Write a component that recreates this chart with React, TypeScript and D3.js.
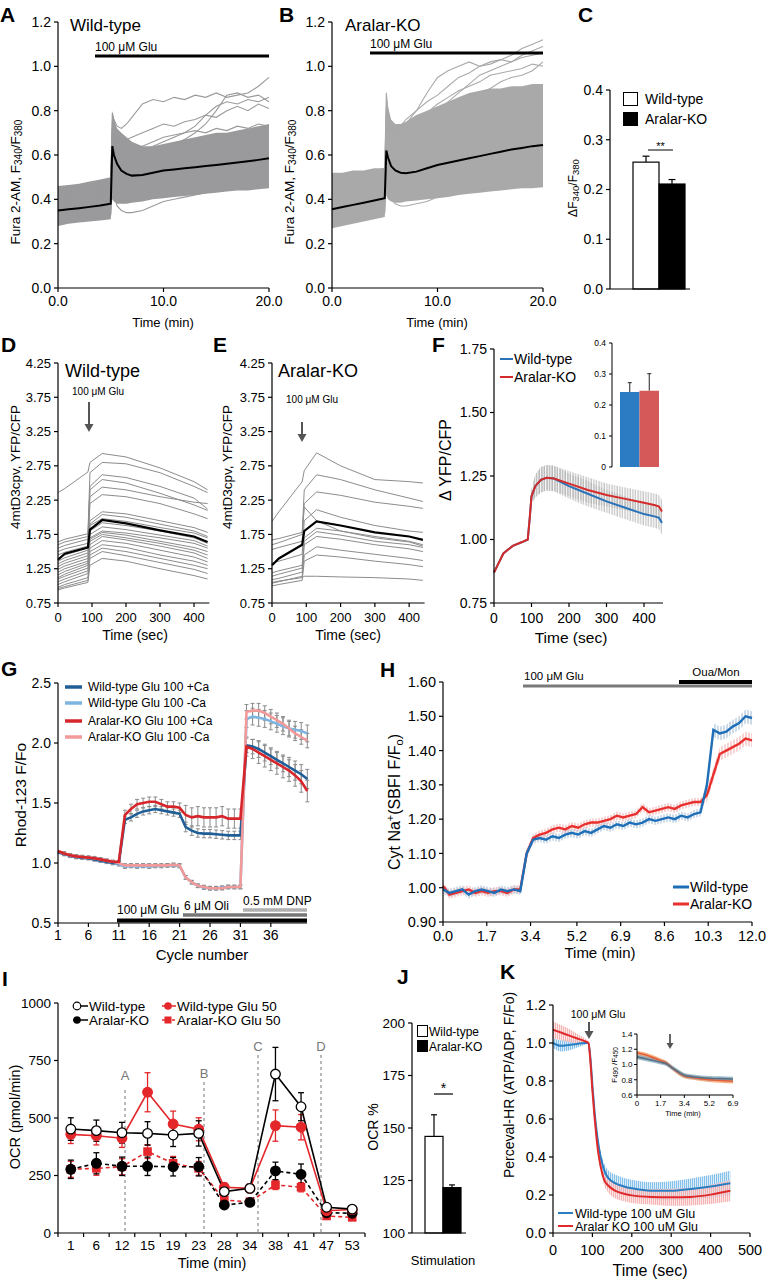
import React from "react";
import * as d3 from "d3";

const FONT = "'Liberation Sans', Arial, Helvetica, sans-serif";

// ---------------- Panel A / B (Fura-2) ----------------
const AB_time = [0, 1, 2, 3, 4, 5, 5.15, 5.3, 5.6, 6, 6.5, 7, 8, 9, 10, 11, 12, 13, 14, 15, 16, 17, 18, 19, 20];
const A_mean = [0.35, 0.355, 0.36, 0.366, 0.372, 0.38, 0.64, 0.6, 0.56, 0.53, 0.515, 0.507, 0.51, 0.52, 0.53, 0.535, 0.54, 0.545, 0.55, 0.555, 0.56, 0.566, 0.572, 0.578, 0.585];
const A_lo = [0.28, 0.29, 0.295, 0.3, 0.305, 0.31, 0.4, 0.39, 0.38, 0.38, 0.38, 0.385, 0.39, 0.4, 0.405, 0.41, 0.415, 0.42, 0.425, 0.43, 0.435, 0.44, 0.44, 0.445, 0.45];
const A_hi = [0.46, 0.465, 0.47, 0.48, 0.49, 0.5, 0.8, 0.76, 0.72, 0.7, 0.68, 0.66, 0.64, 0.64, 0.65, 0.66, 0.67, 0.68, 0.69, 0.7, 0.7, 0.71, 0.72, 0.73, 0.74];
const A_o1 = [0.45, 0.46, 0.45, 0.47, 0.48, 0.49, 0.79, 0.76, 0.73, 0.72, 0.74, 0.77, 0.83, 0.85, 0.84, 0.86, 0.85, 0.87, 0.86, 0.88, 0.86, 0.87, 0.88, 0.91, 0.95];
const A_o2 = [0.42, 0.43, 0.44, 0.44, 0.46, 0.47, 0.7, 0.66, 0.62, 0.6, 0.59, 0.6, 0.62, 0.64, 0.66, 0.68, 0.7, 0.73, 0.78, 0.82, 0.84, 0.83, 0.85, 0.84, 0.86];
const A_o3 = [0.4, 0.41, 0.42, 0.43, 0.44, 0.46, 0.75, 0.72, 0.7, 0.68, 0.67, 0.68, 0.7, 0.72, 0.74, 0.73, 0.75, 0.76, 0.78, 0.77, 0.8, 0.82, 0.8, 0.83, 0.81];
const A_o4 = [0.38, 0.39, 0.4, 0.41, 0.42, 0.44, 0.68, 0.65, 0.62, 0.61, 0.62, 0.63, 0.64, 0.66, 0.68, 0.69, 0.7, 0.71, 0.7, 0.72, 0.71, 0.73, 0.72, 0.74, 0.73];
const A_o5 = [0.3, 0.31, 0.31, 0.32, 0.32, 0.33, 0.5, 0.42, 0.37, 0.35, 0.34, 0.34, 0.35, 0.37, 0.39, 0.4, 0.41, 0.42, 0.43, 0.44, 0.44, 0.45, 0.45, 0.46, 0.46];
const A_o6 = [0.36, 0.37, 0.38, 0.39, 0.4, 0.41, 0.62, 0.56, 0.5, 0.47, 0.45, 0.44, 0.44, 0.46, 0.55, 0.64, 0.67, 0.66, 0.68, 0.67, 0.69, 0.68, 0.7, 0.69, 0.71];
const A_o7 = [0.44, 0.45, 0.46, 0.47, 0.48, 0.49, 0.72, 0.68, 0.64, 0.62, 0.61, 0.61, 0.62, 0.63, 0.64, 0.65, 0.67, 0.7, 0.74, 0.8, 0.87, 0.88, 0.86, 0.87, 0.84];

const B_mean = [0.355, 0.365, 0.375, 0.385, 0.395, 0.405, 0.62, 0.59, 0.55, 0.53, 0.52, 0.518, 0.525, 0.54, 0.555, 0.565, 0.575, 0.585, 0.595, 0.605, 0.615, 0.625, 0.632, 0.64, 0.645];
const B_lo = [0.27, 0.28, 0.29, 0.3, 0.31, 0.32, 0.42, 0.4, 0.39, 0.385, 0.385, 0.39, 0.395, 0.4, 0.405, 0.41, 0.42, 0.425, 0.43, 0.435, 0.44, 0.445, 0.45, 0.45, 0.455];
const B_hi = [0.52, 0.52, 0.53, 0.53, 0.54, 0.54, 0.89, 0.82, 0.76, 0.74, 0.74, 0.75, 0.78, 0.8, 0.82, 0.84, 0.86, 0.88, 0.89, 0.9, 0.9, 0.91, 0.91, 0.92, 0.92];
const B_o1 = [0.5, 0.51, 0.52, 0.52, 0.53, 0.54, 0.88, 0.8, 0.74, 0.72, 0.72, 0.74, 0.8, 0.88, 0.95, 0.98, 1.0, 1.02, 1.0, 1.02, 1.03, 1.02, 1.04, 1.05, 1.06];
const B_o2 = [0.48, 0.49, 0.5, 0.51, 0.52, 0.53, 0.82, 0.76, 0.72, 0.71, 0.73, 0.76, 0.8, 0.84, 0.87, 0.91, 0.95, 0.97, 1.0, 1.01, 1.03, 1.05, 1.08, 1.1, 1.12];
const B_o3 = [0.46, 0.47, 0.48, 0.49, 0.5, 0.51, 0.78, 0.74, 0.7, 0.7, 0.71, 0.73, 0.76, 0.79, 0.83, 0.86, 0.89, 0.91, 0.93, 0.96, 0.97, 0.98, 0.99, 1.01, 1.0];
const B_o4 = [0.44, 0.45, 0.46, 0.47, 0.48, 0.5, 0.75, 0.7, 0.67, 0.68, 0.7, 0.72, 0.75, 0.78, 0.8, 0.82, 0.85, 0.87, 0.88, 0.9, 0.93, 0.95, 0.96, 0.98, 1.02];
const B_o5 = [0.3, 0.31, 0.31, 0.32, 0.33, 0.34, 0.55, 0.45, 0.4, 0.38, 0.37, 0.37, 0.38, 0.39, 0.41, 0.42, 0.43, 0.44, 0.44, 0.45, 0.45, 0.46, 0.46, 0.47, 0.46];
const B_o6 = [0.42, 0.43, 0.44, 0.45, 0.46, 0.47, 0.72, 0.68, 0.64, 0.64, 0.66, 0.68, 0.72, 0.76, 0.8, 0.84, 0.88, 0.92, 0.96, 0.98, 1.0, 1.02, 1.05, 1.07, 1.09];

const AB_ticksY = [0, 0.2, 0.4, 0.6, 0.8, 1.0, 1.2];
const AB_ticksX = [0, 10, 20];

// ---------------- Panel C ----------------
const C_groups = ["Wild-type", "Aralar-KO"];
const C_vals = [0.255, 0.211];
const C_err = [0.012, 0.009];
const C_ticks = [0, 0.1, 0.2, 0.3, 0.4];

// ---------------- Panel D / E (4mtD3cpv) ----------------
const DE_time = [0, 20, 88, 94, 130, 200, 300, 400, 440];
const D_mean = [1.38, 1.47, 1.56, 1.82, 1.96, 1.91, 1.81, 1.72, 1.64];
const D_traces = [
  [2.36, 2.42, 2.66, 2.8, 2.93, 2.88, 2.72, 2.52, 2.4],
  [1.64, 1.68, 1.76, 2.65, 2.8, 2.78, 2.65, 2.45, 2.36],
  [1.6, 1.64, 1.72, 2.45, 2.62, 2.58, 2.45, 2.28, 2.12],
  [1.55, 1.59, 1.68, 2.4, 2.55, 2.5, 2.35, 2.18, 2.1],
  [1.5, 1.54, 1.62, 2.3, 2.44, 2.4, 2.3, 2.22, 2.2],
  [1.45, 1.49, 1.58, 2.2, 2.33, 2.3, 2.2, 2.05, 1.98],
  [1.4, 1.45, 1.55, 1.95, 2.08, 2.05, 1.95, 1.85, 1.78],
  [1.36, 1.41, 1.52, 1.9, 2.04, 2.0, 1.9, 1.8, 1.72],
  [1.32, 1.37, 1.48, 1.88, 1.98, 1.94, 1.85, 1.77, 1.7],
  [1.28, 1.33, 1.44, 1.8, 1.92, 1.88, 1.8, 1.7, 1.62],
  [1.24, 1.29, 1.4, 1.75, 1.86, 1.82, 1.74, 1.66, 1.58],
  [1.2, 1.25, 1.36, 1.7, 1.8, 1.77, 1.7, 1.62, 1.55],
  [1.16, 1.21, 1.33, 1.68, 1.78, 1.74, 1.65, 1.56, 1.5],
  [1.12, 1.17, 1.3, 1.65, 1.75, 1.7, 1.62, 1.52, 1.45],
  [1.1, 1.14, 1.26, 1.6, 1.72, 1.67, 1.58, 1.48, 1.4],
  [1.06, 1.1, 1.22, 1.55, 1.66, 1.62, 1.52, 1.42, 1.35],
  [1.02, 1.06, 1.18, 1.5, 1.6, 1.56, 1.45, 1.36, 1.3],
  [0.98, 1.02, 1.12, 1.45, 1.55, 1.5, 1.4, 1.3, 1.25],
  [0.96, 0.99, 1.08, 1.4, 1.5, 1.44, 1.34, 1.24, 1.18],
  [0.94, 0.97, 1.05, 1.3, 1.4, 1.36, 1.25, 1.15, 1.1],
];
const E_mean = [1.3, 1.4, 1.6, 1.8, 1.94, 1.88, 1.78, 1.72, 1.67];
const E_traces = [
  [1.94, 2.08, 2.52, 2.68, 2.94, 2.75, 2.55, 2.52, 2.5],
  [1.6, 1.63, 1.75, 2.4, 2.62, 2.55, 2.4, 2.28, 2.23],
  [1.53, 1.56, 1.65, 2.2, 2.37, 2.32, 2.22, 2.16, 2.13],
  [1.67, 1.69, 1.78, 2.15, 1.95, 1.8, 1.7, 1.64, 1.58],
  [1.33, 1.36, 1.46, 1.95, 2.11, 2.0, 1.88, 1.8, 1.78],
  [1.19, 1.22, 1.3, 1.7, 1.84, 1.8, 1.72, 1.65, 1.6],
  [1.14, 1.17, 1.26, 1.65, 1.79, 1.74, 1.65, 1.6, 1.56],
  [1.09, 1.11, 1.2, 1.6, 1.72, 1.68, 1.6, 1.54, 1.5],
  [1.04, 1.06, 1.14, 1.45, 1.57, 1.52, 1.46, 1.4, 1.37],
  [1.0, 1.02, 1.08, 1.36, 1.45, 1.42, 1.36, 1.31, 1.28],
  [1.05, 1.07, 1.12, 1.14, 1.14, 1.13, 1.12, 1.1, 1.08],
];
const DE_ticksY = [0.75, 1.25, 1.75, 2.25, 2.75, 3.25, 3.75, 4.25];
const DEF_ticksX = [0, 100, 200, 300, 400];

// ---------------- Panel F ----------------
const F_time = [0, 10, 25, 50, 75, 90, 95, 100, 110, 125, 140, 160, 200, 250, 300, 350, 400, 430, 440, 448];
const F_wt = [0.87, 0.9, 0.945, 0.975, 0.99, 1.0, 1.08, 1.17, 1.21, 1.235, 1.243, 1.24, 1.21, 1.18, 1.15, 1.125, 1.1, 1.09, 1.085, 1.065];
const F_ko = [0.87, 0.9, 0.945, 0.975, 0.99, 1.0, 1.08, 1.17, 1.21, 1.235, 1.243, 1.24, 1.22, 1.195, 1.175, 1.16, 1.145, 1.135, 1.13, 1.11];
const F_err = [0, 0, 0, 0, 0, 0, 0.02, 0.03, 0.045, 0.05, 0.05, 0.05, 0.05, 0.05, 0.045, 0.045, 0.045, 0.045, 0.045, 0.045];
const F_ticksY = [0.75, 1.0, 1.25, 1.5, 1.75];
const F_barVals = [0.242, 0.246];
const F_barErr = [0.03, 0.055];
const F_barTicks = [0, 0.1, 0.2, 0.3, 0.4];

// ---------------- Panel G ----------------
const G_cycles = d3.range(1, 43);
const G_wtCa = [1.09, 1.075, 1.06, 1.05, 1.045, 1.04, 1.03, 1.02, 1.01, 1.0, 1.0, 1.36, 1.38, 1.41, 1.43, 1.44, 1.45, 1.44, 1.43, 1.42, 1.41, 1.3, 1.27, 1.25, 1.245, 1.245, 1.24, 1.235, 1.23, 1.23, 1.23, 1.98, 1.97, 1.95, 1.92, 1.89, 1.86, 1.83, 1.8, 1.77, 1.74, 1.7];
const G_wtNo = [1.09, 1.075, 1.06, 1.05, 1.045, 1.04, 1.03, 1.02, 1.01, 1.0, 0.99, 0.97, 0.975, 0.97, 0.975, 0.97, 0.975, 0.975, 0.98, 0.98, 0.975, 0.88, 0.84, 0.81, 0.795, 0.79, 0.79, 0.795, 0.8, 0.8, 0.8, 2.2, 2.22, 2.21, 2.2, 2.18, 2.16, 2.14, 2.12, 2.11, 2.1, 2.08];
const G_koCa = [1.1, 1.08, 1.065, 1.055, 1.05, 1.045, 1.04, 1.03, 1.02, 1.01, 1.01, 1.4, 1.45, 1.49, 1.5, 1.51, 1.51, 1.49, 1.47, 1.47, 1.46, 1.4, 1.38, 1.39, 1.38, 1.38, 1.38, 1.39, 1.37, 1.37, 1.37, 1.97, 1.95, 1.92, 1.89, 1.86, 1.83, 1.8, 1.77, 1.73, 1.68, 1.6];
const G_koNo = [1.1, 1.08, 1.065, 1.055, 1.05, 1.045, 1.04, 1.03, 1.02, 1.01, 1.0, 0.98, 0.98, 0.98, 0.98, 0.98, 0.98, 0.98, 0.98, 0.985, 0.98, 0.88, 0.84, 0.81, 0.8, 0.79, 0.79, 0.79, 0.8, 0.8, 0.8, 2.26, 2.27, 2.27, 2.25, 2.22, 2.19, 2.16, 2.12, 2.08, 2.05, 2.02];
const G_eWtCa = [0.01, 0.01, 0.01, 0.01, 0.01, 0.01, 0.01, 0.01, 0.01, 0.01, 0.01, 0.03, 0.03, 0.03, 0.03, 0.03, 0.03, 0.03, 0.03, 0.03, 0.03, 0.04, 0.04, 0.035, 0.035, 0.035, 0.035, 0.035, 0.035, 0.035, 0.035, 0.06, 0.06, 0.07, 0.07, 0.07, 0.07, 0.07, 0.08, 0.08, 0.08, 0.08];
const G_eKoCa = [0.01, 0.01, 0.01, 0.01, 0.01, 0.01, 0.01, 0.01, 0.01, 0.01, 0.01, 0.04, 0.04, 0.04, 0.04, 0.04, 0.04, 0.04, 0.04, 0.04, 0.04, 0.08, 0.08, 0.08, 0.08, 0.08, 0.08, 0.08, 0.08, 0.08, 0.08, 0.08, 0.08, 0.09, 0.09, 0.09, 0.09, 0.09, 0.09, 0.09, 0.09, 0.09];
const G_eWtNo = [0.015, 0.015, 0.015, 0.015, 0.015, 0.015, 0.015, 0.015, 0.015, 0.015, 0.015, 0.015, 0.015, 0.015, 0.015, 0.015, 0.015, 0.015, 0.015, 0.015, 0.015, 0.015, 0.015, 0.015, 0.015, 0.015, 0.015, 0.015, 0.015, 0.015, 0.015, 0.07, 0.07, 0.07, 0.07, 0.07, 0.07, 0.07, 0.07, 0.07, 0.07, 0.07];
const G_eKoNo = [0.015, 0.015, 0.015, 0.015, 0.015, 0.015, 0.015, 0.015, 0.015, 0.015, 0.015, 0.015, 0.015, 0.015, 0.015, 0.015, 0.015, 0.015, 0.015, 0.015, 0.015, 0.015, 0.015, 0.015, 0.015, 0.015, 0.015, 0.015, 0.015, 0.015, 0.015, 0.06, 0.06, 0.06, 0.06, 0.06, 0.06, 0.06, 0.06, 0.06, 0.06, 0.06];
const G_labels = ["Wild-type Glu 100 +Ca", "Wild-type Glu 100 -Ca", "Aralar-KO Glu 100 +Ca", "Aralar-KO Glu 100 -Ca"];
const G_colors = ["#1f5e96", "#7db4e0", "#d7262b", "#f29a9a"];
const G_ticksX = [1, 6, 11, 16, 21, 26, 31, 36];
const G_ticksY = [0.5, 1.0, 1.5, 2.0, 2.5];

// ---------------- Panel H ----------------
const H_time = [0, 0.25, 0.5, 0.75, 1, 1.25, 1.5, 1.75, 2, 2.25, 2.5, 2.75, 3, 3.25, 3.5, 3.75, 4, 4.25, 4.5, 4.75, 5, 5.25, 5.5, 5.75, 6, 6.25, 6.5, 6.75, 7, 7.25, 7.5, 7.75, 8, 8.25, 8.5, 8.75, 9, 9.25, 9.5, 9.75, 10, 10.25, 10.5, 10.75, 11, 11.25, 11.5, 11.75, 12];
const H_wt = [0.995, 0.985, 0.99, 0.995, 0.98, 0.99, 0.995, 0.99, 0.985, 0.995, 0.99, 0.995, 0.99, 1.1, 1.14, 1.145, 1.14, 1.15, 1.145, 1.155, 1.16, 1.155, 1.165, 1.16, 1.17, 1.18, 1.175, 1.185, 1.18, 1.19, 1.185, 1.19, 1.2, 1.195, 1.2, 1.205, 1.2, 1.21, 1.205, 1.215, 1.22, 1.3, 1.46, 1.45, 1.455, 1.47, 1.48, 1.5, 1.495];
const H_ko = [1.005, 0.98, 0.985, 0.99, 0.995, 0.985, 0.99, 0.985, 0.99, 0.99, 0.985, 0.995, 0.995, 1.1, 1.145, 1.155, 1.16, 1.17, 1.175, 1.17, 1.18, 1.175, 1.185, 1.19, 1.19, 1.195, 1.2, 1.21, 1.205, 1.21, 1.215, 1.235, 1.22, 1.225, 1.23, 1.235, 1.23, 1.24, 1.245, 1.25, 1.25, 1.27, 1.33, 1.39, 1.4, 1.41, 1.42, 1.435, 1.43];
const H_err = [0.012, 0.012, 0.012, 0.012, 0.012, 0.012, 0.012, 0.012, 0.012, 0.012, 0.012, 0.012, 0.012, 0.012, 0.012, 0.012, 0.012, 0.012, 0.012, 0.012, 0.012, 0.012, 0.012, 0.012, 0.012, 0.012, 0.012, 0.012, 0.012, 0.012, 0.012, 0.012, 0.012, 0.012, 0.012, 0.012, 0.012, 0.012, 0.012, 0.012, 0.012, 0.02, 0.02, 0.02, 0.02, 0.02, 0.02, 0.02, 0.02];
const H_ticksX = [0, 1.7, 3.4, 5.2, 6.9, 8.6, 10.3, 12.0];
const H_ticksY = [0.9, 1.0, 1.1, 1.2, 1.3, 1.4, 1.5, 1.6];

// ---------------- Panel I ----------------
const I_times = ["1", "6", "12", "15", "19", "23", "28", "34", "38", "41", "47", "53"];
const I_wt = [452, 445, 436, 433, 426, 433, 180, 194, 691, 549, 112, 104];
const I_wtErr = [49, 46, 45, 51, 50, 55, 20, 18, 116, 61, 12, 10];
const I_ko = [277, 303, 290, 290, 288, 288, 122, 133, 270, 255, 88, 86];
const I_koErr = [40, 46, 40, 40, 40, 40, 12, 10, 38, 45, 10, 8];
const I_wtGlu = [429, 423, 412, 612, 474, 451, 199, 194, 467, 460, 97, 102];
const I_wtGluErr = [40, 40, 40, 85, 56, 50, 18, 18, 68, 55, 10, 10];
const I_koGlu = [277, 281, 288, 354, 303, 281, 143, 136, 209, 199, 74, 68];
const I_koGluErr = [35, 30, 35, 30, 30, 30, 15, 12, 20, 20, 8, 8];
const I_ticksY = [0, 250, 500, 750, 1000];

// ---------------- Panel J ----------------
const J_groups = ["Wild-type", "Aralar-KO"];
const J_vals = [146, 121.6];
const J_err = [10.3, 1.3];
const J_ticks = [100, 125, 150, 175, 200];

// ---------------- Panel K ----------------
const K_time = [0, 20, 40, 60, 80, 90, 95, 100, 105, 110, 115, 120, 130, 140, 160, 180, 200, 250, 300, 350, 400, 450];
const K_wt = [1.0, 0.985, 0.99, 0.995, 1.0, 1.0, 0.92, 0.78, 0.65, 0.55, 0.47, 0.41, 0.33, 0.29, 0.26, 0.245, 0.235, 0.222, 0.222, 0.232, 0.245, 0.262];
const K_ko = [1.07, 1.055, 1.04, 1.025, 1.01, 1.0, 0.9, 0.75, 0.62, 0.51, 0.42, 0.36, 0.28, 0.25, 0.22, 0.207, 0.198, 0.19, 0.188, 0.19, 0.202, 0.222];
const K_wtErr = [0.025, 0.03, 0.03, 0.02, 0.01, 0.005, 0.01, 0.015, 0.02, 0.02, 0.02, 0.025, 0.035, 0.04, 0.045, 0.045, 0.045, 0.045, 0.05, 0.055, 0.06, 0.065];
const K_koErr = [0.045, 0.04, 0.035, 0.025, 0.015, 0.005, 0.01, 0.015, 0.02, 0.02, 0.02, 0.025, 0.03, 0.035, 0.04, 0.04, 0.04, 0.04, 0.045, 0.045, 0.05, 0.055];
const K_ticksX = [0, 100, 200, 300, 400, 500];
const K_ticksY = [0, 0.2, 0.4, 0.6, 0.8, 1.0, 1.2];
const Ki_time = [0, 0.5, 1.0, 1.7, 2.1, 2.5, 3.0, 3.4, 4.0, 5.2, 6.0, 6.9];
const Ki_wt = [1.1, 1.08, 1.06, 1.03, 1.01, 0.96, 0.9, 0.86, 0.84, 0.82, 0.815, 0.81];
const Ki_ko = [1.15, 1.13, 1.1, 1.05, 1.02, 0.96, 0.89, 0.85, 0.83, 0.8, 0.79, 0.78];
const Ki_err = [0.03, 0.03, 0.03, 0.03, 0.03, 0.03, 0.03, 0.03, 0.03, 0.03, 0.03, 0.03];
const Ki_ticksX = [0, 1.7, 3.4, 5.2, 6.9];
const Ki_ticksY = [0.6, 0.8, 1.0, 1.2, 1.4];

// ---------------- helpers ----------------
type Sc = (v: any) => number;

function YAxis(p: { scale: any; x: number; ticks: number[]; fmt: (v: number) => string; fs: number; len?: number; gap?: number; sw?: number; noLine?: boolean }) {
  const len = p.len ?? 4, gap = p.gap ?? 3, sw = p.sw ?? 1.2;
  const [a, b] = p.scale.range();
  return (
    <g>
      {!p.noLine && <line x1={p.x} x2={p.x} y1={a} y2={b} stroke="#000" strokeWidth={sw} />}
      {p.ticks.map((t, i) => (
        <g key={i}>
          <line x1={p.x - len} x2={p.x} y1={p.scale(t)} y2={p.scale(t)} stroke="#000" strokeWidth={sw} />
          <text x={p.x - len - gap} y={p.scale(t)} dy="0.35em" textAnchor="end" fontSize={p.fs}>{p.fmt(t)}</text>
        </g>
      ))}
    </g>
  );
}

function XAxis(p: { scale: any; y: number; x0: number; x1: number; ticks: number[]; fmt: (v: number) => string; fs: number; labelY: number; len?: number; sw?: number }) {
  const len = p.len ?? 4, sw = p.sw ?? 1.2;
  return (
    <g>
      <line x1={p.x0} x2={p.x1} y1={p.y} y2={p.y} stroke="#000" strokeWidth={sw} />
      {p.ticks.map((t, i) => (
        <g key={i}>
          <line x1={p.scale(t)} x2={p.scale(t)} y1={p.y} y2={p.y + len} stroke="#000" strokeWidth={sw} />
          <text x={p.scale(t)} y={p.labelY} textAnchor="middle" fontSize={p.fs}>{p.fmt(t)}</text>
        </g>
      ))}
    </g>
  );
}

function RotLabel(p: { x: number; y: number; fs: number; children: any; fill?: string }) {
  return (
    <text transform={`translate(${p.x},${p.y}) rotate(-90)`} textAnchor="middle" dy="0.35em" fontSize={p.fs} fill={p.fill ?? "#000"}>
      {p.children}
    </text>
  );
}

function Letter(p: { x: number; y: number; t: string }) {
  return <text x={p.x} y={p.y} fontSize={21} fontWeight="bold">{p.t}</text>;
}

function Arrow(p: { x: number; y1: number; y2: number; color?: string; w?: number; hw?: number; hl?: number }) {
  const c = p.color ?? "#555", hw = p.hw ?? 4.5, hl = p.hl ?? 8;
  return (
    <g>
      <line x1={p.x} x2={p.x} y1={p.y1} y2={p.y2 - hl + 1} stroke={c} strokeWidth={p.w ?? 2} />
      <polygon points={`${p.x - hw},${p.y2 - hl} ${p.x + hw},${p.y2 - hl} ${p.x},${p.y2}`} fill={c} />
    </g>
  );
}

const f1 = (v: number) => v.toFixed(1);
const f2 = (v: number) => v.toFixed(2);
const f0 = (v: number) => String(v);

export default function App() {
  // ---- A / B ----
  const yAB = d3.scaleLinear().domain([0, 1.2]).range([288, 22]);
  const xA = d3.scaleLinear().domain([0, 20]).range([58, 269]);
  const xB = d3.scaleLinear().domain([0, 20]).range([332, 543]);
  const lineAB = (xs: Sc, vals: number[]) => d3.line<number>().x((_, i) => xs(AB_time[i])).y((d) => yAB(d))(vals) as string;
  const areaAB = (xs: Sc, lo: number[], hi: number[]) =>
    d3.area<number>().x((_, i) => xs(AB_time[i])).y0((_, i) => yAB(lo[i])).y1((_, i) => yAB(hi[i]))(lo) as string;
  const A_out = [A_o1, A_o2, A_o3, A_o4, A_o5, A_o6, A_o7];
  const B_out = [B_o1, B_o2, B_o3, B_o4, B_o5, B_o6];

  const furaLabel = (
    <>
      Fura 2-AM, F<tspan fontSize={10} dy={2}>340</tspan>
      <tspan dy={-2}>/F</tspan>
      <tspan fontSize={10} dy={2}>380</tspan>
    </>
  );

  // ---- C ----
  const yC = d3.scaleLinear().domain([0, 0.4]).range([289, 90]);
  const xC = d3.scaleBand<string>().domain(C_groups).range([633, 685]);

  // ---- D / E ----
  const yDE = d3.scaleLinear().domain([0.75, 4.25]).range([603, 363]);
  const xD = d3.scaleLinear().domain([0, 445]).range([58, 209.3]);
  const xE = d3.scaleLinear().domain([0, 445]).range([272, 424.6]);
  const lineDE = (xs: Sc, vals: number[]) => d3.line<number>().x((_, i) => xs(DE_time[i])).y((d) => yDE(d))(vals) as string;

  // ---- F ----
  const xF = d3.scaleLinear().domain([0, 450]).range([494, 662.75]);
  const yF = d3.scaleLinear().domain([0.75, 1.75]).range([603, 349]);
  const lineF = (vals: number[]) => d3.line<number>().x((_, i) => xF(F_time[i])).y((d) => yF(d))(vals) as string;
  const bandF = (vals: number[]) =>
    d3.area<number>().x((_, i) => xF(F_time[i])).y0((d, i) => yF(d - F_err[i])).y1((d, i) => yF(d + F_err[i]))(vals) as string;
  const yFi = d3.scaleLinear().domain([0, 0.4]).range([467, 343]);
  const xFi = d3.scaleBand<string>().domain(C_groups).range([620, 659]);
  const F_barColors = ["#2b7cc3", "#d65959"];

  // ---- G ----
  const xG = d3.scaleLinear().domain([1, 42]).range([58, 307.3]);
  const yG = d3.scaleLinear().domain([0.5, 2.5]).range([923, 683]);
  const G_series = [G_wtCa, G_wtNo, G_koCa, G_koNo];
  const G_errs = [G_eWtCa, G_eWtNo, G_eKoCa, G_eKoNo];
  const lineG = (vals: number[]) => d3.line<number>().x((_, i) => xG(G_cycles[i])).y((d) => yG(d))(vals) as string;

  // ---- H ----
  const xH = d3.scaleLinear().domain([0, 12]).range([443, 752]);
  const yH = d3.scaleLinear().domain([0.9, 1.6]).range([922, 682]);
  const lineH = (vals: number[]) => d3.line<number>().x((_, i) => xH(H_time[i])).y((d) => yH(d))(vals) as string;
  const bandH = (vals: number[]) =>
    d3.area<number>().x((_, i) => xH(H_time[i])).y0((d, i) => yH(d - H_err[i])).y1((d, i) => yH(d + H_err[i]))(vals) as string;

  // ---- I ----
  const xI = d3.scaleBand<string>().domain(I_times).range([58, 365]);
  const yI = d3.scaleLinear().domain([0, 1000]).range([1233, 1003]);
  const cx = (c: string) => (xI(c) as number) + xI.bandwidth() / 2;
  const lineI = (vals: number[]) => d3.line<number>().x((_, i) => cx(I_times[i])).y((d) => yI(d))(vals) as string;
  const I_red = "#e3272b";
  const I_series = [
    { v: I_koGlu, e: I_koGluErr, c: I_red, dash: "4,3", m: "square", fill: I_red },
    { v: I_ko, e: I_koErr, c: "#000", dash: "4,3", m: "circle", fill: "#000" },
    { v: I_wtGlu, e: I_wtGluErr, c: I_red, dash: "", m: "circle", fill: I_red },
    { v: I_wt, e: I_wtErr, c: "#000", dash: "", m: "circle", fill: "#fff" },
  ];
  const I_edges = [...I_times.map((t) => xI(t) as number), 365];
  const I_vlines = [
    { x: 125, y0: 1090, lab: "A", ly: 1080 },
    { x: 204, y0: 1082, lab: "B", ly: 1078 },
    { x: 258, y0: 1055, lab: "C", ly: 1051 },
    { x: 321, y0: 1055, lab: "D", ly: 1051 },
  ];

  // ---- J ----
  const yJ = d3.scaleLinear().domain([100, 200]).range([1233, 1023]);
  const xJ = d3.scaleBand<string>().domain(J_groups).range([425, 461]);

  // ---- K ----
  const xK = d3.scaleLinear().domain([0, 500]).range([553, 750]);
  const yK = d3.scaleLinear().domain([0, 1.2]).range([1233, 1005]);
  const lineK = (vals: number[]) => d3.line<number>().x((_, i) => xK(K_time[i])).y((d) => yK(d)).curve(d3.curveMonotoneX)(vals) as string;
  const bandK = (vals: number[], err: number[]) =>
    d3.area<number>().x((_, i) => xK(K_time[i])).y0((d, i) => yK(d - err[i])).y1((d, i) => yK(d + err[i])).curve(d3.curveMonotoneX)(vals) as string;
  const xKi = d3.scaleLinear().domain([0, 6.9]).range([637, 733]);
  const yKi = d3.scaleLinear().domain([0.6, 1.4]).range([1095, 1034]);
  const lineKi = (vals: number[]) => d3.line<number>().x((_, i) => xKi(Ki_time[i])).y((d) => yKi(d)).curve(d3.curveMonotoneX)(vals) as string;
  const bandKi = (vals: number[]) =>
    d3.area<number>().x((_, i) => xKi(Ki_time[i])).y0((d, i) => yKi(d - Ki_err[i])).y1((d, i) => yKi(d + Ki_err[i])).curve(d3.curveMonotoneX)(vals) as string;

  const grayA = "#9a9a9c";
  const grayB = "#a9a9a9";

  return (
    <svg width={766} height={1280} style={{ position: "absolute", left: 0, top: 0 }} fontFamily={FONT}>
      <defs>
        <pattern id="hatchGray" width="2.6" height="10" patternUnits="userSpaceOnUse">
          <line x1="1" y1="0" x2="1" y2="10" stroke="#b3b3b3" strokeWidth="1" />
        </pattern>
        <pattern id="hatchBlue" width="2" height="10" patternUnits="userSpaceOnUse">
          <rect width="2" height="10" fill="#dcecf8" />
          <line x1="0.5" y1="0" x2="0.5" y2="10" stroke="#84c1ea" strokeWidth="1" />
        </pattern>
        <pattern id="hatchRed" width="2" height="10" patternUnits="userSpaceOnUse">
          <rect width="2" height="10" fill="#fbe1e1" />
          <line x1="1.5" y1="0" x2="1.5" y2="10" stroke="#f3a6a6" strokeWidth="1" />
        </pattern>
        <pattern id="hatchHB" width="3" height="10" patternUnits="userSpaceOnUse">
          <line x1="1" y1="0" x2="1" y2="10" stroke="#9cb8d4" strokeWidth="1" />
        </pattern>
        <pattern id="hatchHR" width="3" height="10" patternUnits="userSpaceOnUse">
          <line x1="2" y1="0" x2="2" y2="10" stroke="#f1a7a7" strokeWidth="1" />
        </pattern>
      </defs>
      <rect width={766} height={1280} fill="#fff" />

      {/* ================= A ================= */}
      <g>
        <Letter x={0} y={22} t="A" />
        <path d={areaAB(xA, A_lo, A_hi)} fill={grayA} />
        {A_out.map((o, i) => (
          <path key={i} d={lineAB(xA, o)} fill="none" stroke={grayA} strokeWidth={1.1} />
        ))}
        <path d={lineAB(xA, A_mean)} fill="none" stroke="#000" strokeWidth={2} />
        <YAxis scale={yAB} x={58} ticks={AB_ticksY} fmt={f1} fs={14} />
        <XAxis scale={xA} y={288} x0={58} x1={269} ticks={AB_ticksX} fmt={f1} fs={14} labelY={306} />
        <text x={163} y={327} textAnchor="middle" fontSize={13}>Time (min)</text>
        <RotLabel x={15} y={182} fs={13.5}>{furaLabel}</RotLabel>
        <text x={70} y={31} fontSize={17}>Wild-type</text>
        <text x={95} y={51} fontSize={12}>100 μM Glu</text>
        <line x1={95} x2={269} y1={56} y2={56} stroke="#000" strokeWidth={3} />
      </g>

      {/* ================= B ================= */}
      <g>
        <Letter x={279} y={22} t="B" />
        <path d={areaAB(xB, B_lo, B_hi)} fill={grayB} />
        {B_out.map((o, i) => (
          <path key={i} d={lineAB(xB, o)} fill="none" stroke={grayB} strokeWidth={1.1} />
        ))}
        <path d={lineAB(xB, B_mean)} fill="none" stroke="#000" strokeWidth={2} />
        <YAxis scale={yAB} x={332} ticks={AB_ticksY} fmt={f1} fs={14} />
        <XAxis scale={xB} y={288} x0={332} x1={543} ticks={AB_ticksX} fmt={f1} fs={14} labelY={306} />
        <text x={437} y={327} textAnchor="middle" fontSize={13}>Time (min)</text>
        <RotLabel x={289} y={182} fs={13.5}>{furaLabel}</RotLabel>
        <text x={345} y={31} fontSize={17}>Aralar-KO</text>
        <text x={370} y={48} fontSize={12}>100 μM Glu</text>
        <line x1={370} x2={543} y1={53} y2={53} stroke="#000" strokeWidth={3} />
      </g>

      {/* ================= C ================= */}
      <g>
        <Letter x={578} y={22} t="C" />
        {C_groups.map((g, i) => {
          const x0 = xC(g) as number;
          const w = xC.bandwidth();
          const top = yC(C_vals[i]);
          const et = yC(C_vals[i] + C_err[i]);
          return (
            <g key={g}>
              <line x1={x0 + w / 2} x2={x0 + w / 2} y1={top} y2={et} stroke="#000" strokeWidth={1.2} />
              <line x1={x0 + w / 2 - 3.5} x2={x0 + w / 2 + 3.5} y1={et} y2={et} stroke="#000" strokeWidth={1.2} />
              <rect x={x0} y={top} width={w} height={yC(0) - top} fill={i === 0 ? "#fff" : "#000"} stroke="#000" strokeWidth={1.2} />
            </g>
          );
        })}
        <YAxis scale={yC} x={610} ticks={C_ticks} fmt={f1} fs={14} />
        <line x1={610} x2={690} y1={289} y2={289} stroke="#000" strokeWidth={1.2} />
        <line x1={648} x2={673} y1={150} y2={150} stroke="#000" strokeWidth={1} />
        <text x={660.5} y={150} textAnchor="middle" fontSize={11}>**</text>
        <rect x={623.5} y={92.5} width={14} height={13} fill="#fff" stroke="#000" strokeWidth={1} />
        <text x={645} y={104} fontSize={14}>Wild-type</text>
        <rect x={623.5} y={112.5} width={14} height={13} fill="#000" stroke="#000" strokeWidth={1} />
        <text x={645} y={124} fontSize={14}>Aralar-KO</text>
        <RotLabel x={573} y={188} fs={12}>
          ΔF<tspan fontSize={9.5} dy={2}>340</tspan>
          <tspan dy={-2}>/F</tspan>
          <tspan fontSize={9.5} dy={2}>380</tspan>
        </RotLabel>
      </g>

      {/* ================= D ================= */}
      <g>
        <Letter x={1} y={352} t="D" />
        {D_traces.map((tr, i) => (
          <path key={i} d={lineDE(xD, tr)} fill="none" stroke="#8c8c8c" strokeWidth={1} />
        ))}
        <path d={lineDE(xD, D_mean)} fill="none" stroke="#000" strokeWidth={2.2} />
        <YAxis scale={yDE} x={58} ticks={DE_ticksY} fmt={f2} fs={13} />
        <XAxis scale={xD} y={603} x0={58} x1={209.3} ticks={DEF_ticksX} fmt={f0} fs={13} labelY={622} />
        <text x={135} y={640} textAnchor="middle" fontSize={14}>Time (sec)</text>
        <RotLabel x={15} y={467} fs={13.5}>4mtD3cpv, YFP/CFP</RotLabel>
        <text x={65} y={377} fontSize={18}>Wild-type</text>
        <text x={98} y={395} textAnchor="middle" fontSize={10}>100 μM Glu</text>
        <Arrow x={89} y1={402} y2={432} />
      </g>

      {/* ================= E ================= */}
      <g>
        <Letter x={213} y={352} t="E" />
        {E_traces.map((tr, i) => (
          <path key={i} d={lineDE(xE, tr)} fill="none" stroke="#8c8c8c" strokeWidth={1} />
        ))}
        <path d={lineDE(xE, E_mean)} fill="none" stroke="#000" strokeWidth={2.2} />
        <YAxis scale={yDE} x={272} ticks={DE_ticksY} fmt={f2} fs={13} />
        <XAxis scale={xE} y={603} x0={272} x1={424.6} ticks={DEF_ticksX} fmt={f0} fs={13} labelY={622} />
        <text x={348} y={640} textAnchor="middle" fontSize={14}>Time (sec)</text>
        <RotLabel x={227} y={467} fs={13.5}>4mtD3cpv, YFP/CFP</RotLabel>
        <text x={278} y={377} fontSize={18}>Aralar-KO</text>
        <text x={312} y={403} textAnchor="middle" fontSize={10}>100 μM Glu</text>
        <Arrow x={302} y1={422} y2={442} />
      </g>

      {/* ================= F ================= */}
      <g>
        <Letter x={432} y={352} t="F" />
        <path d={bandF(F_wt)} fill="url(#hatchGray)" />
        <path d={bandF(F_ko)} fill="url(#hatchGray)" />
        <path d={lineF(F_wt)} fill="none" stroke="#2a73b9" strokeWidth={2} />
        <path d={lineF(F_ko)} fill="none" stroke="#d42a2a" strokeWidth={2} />
        <YAxis scale={yF} x={494} ticks={F_ticksY} fmt={f2} fs={14} />
        <XAxis scale={xF} y={603} x0={494} x1={663} ticks={DEF_ticksX} fmt={f0} fs={14} labelY={623} />
        <text x={571} y={643} textAnchor="middle" fontSize={15.5}>Time (sec)</text>
        <RotLabel x={445} y={460} fs={16}>Δ YFP/CFP</RotLabel>
        <line x1={500} x2={513} y1={359} y2={359} stroke="#2a73b9" strokeWidth={2} />
        <text x={514} y={364} fontSize={14}>Wild-type</text>
        <line x1={500} x2={513} y1={377} y2={377} stroke="#d42a2a" strokeWidth={2} />
        <text x={514} y={382} fontSize={14}>Aralar-KO</text>
        {/* inset */}
        {C_groups.map((g, i) => {
          const x0 = xFi(g) as number;
          const w = xFi.bandwidth();
          const top = yFi(F_barVals[i]);
          const et = yFi(F_barVals[i] + F_barErr[i]);
          return (
            <g key={g}>
              <line x1={x0 + w / 2} x2={x0 + w / 2} y1={top} y2={et} stroke="#222" strokeWidth={1} />
              <line x1={x0 + w / 2 - 2} x2={x0 + w / 2 + 2} y1={et} y2={et} stroke="#222" strokeWidth={1} />
              <rect x={x0} y={top} width={w} height={yFi(0) - top} fill={F_barColors[i]} />
            </g>
          );
        })}
        <YAxis scale={yFi} x={612} ticks={F_barTicks} fmt={(v) => (v === 0 ? "0" : v.toFixed(1))} fs={8.5} len={3} gap={3} sw={1} />
      </g>

      {/* ================= G ================= */}
      <g>
        <Letter x={1} y={676} t="G" />
        {G_series.map((s, k) =>
          s.map((v, i) => {
            if (i === 0) return null;
            const x = xG(G_cycles[i]);
            const y0 = yG(v - G_errs[k][i]);
            const y1 = yG(v + G_errs[k][i]);
            return (
              <g key={`${k}-${i}`}>
                <line x1={x} x2={x} y1={y0} y2={y1} stroke="#8a8a8a" strokeWidth={1} />
                <line x1={x - 2} x2={x + 2} y1={y1} y2={y1} stroke="#8a8a8a" strokeWidth={1} />
                <line x1={x - 2} x2={x + 2} y1={y0} y2={y0} stroke="#8a8a8a" strokeWidth={1} />
              </g>
            );
          })
        )}
        {[1, 0, 3, 2].map((k) => (
          <path key={k} d={lineG(G_series[k])} fill="none" stroke={G_colors[k]} strokeWidth={2.6} />
        ))}
        <YAxis scale={yG} x={58} ticks={G_ticksY} fmt={f1} fs={14} />
        <XAxis scale={xG} y={923} x0={58} x1={307} ticks={G_ticksX} fmt={f0} fs={14} labelY={940} />
        <text x={202} y={960} textAnchor="middle" fontSize={15}>Cycle number</text>
        <RotLabel x={21} y={795} fs={15.5}>Rhod-123 F/Fo</RotLabel>
        {G_labels.map((l, k) => {
          const yy = [687, 703, 721, 737][k];
          return (
            <g key={l}>
              <line x1={65} x2={82} y1={yy} y2={yy} stroke={G_colors[k]} strokeWidth={3.5} />
              <text x={88} y={yy + 4} fontSize={12}>{l}</text>
            </g>
          );
        })}
        <line x1={243} x2={307} y1={910} y2={910} stroke="#b0b0b0" strokeWidth={3.5} />
        <line x1={183} x2={307} y1={915} y2={915} stroke="#777" strokeWidth={3.5} />
        <line x1={117} x2={307} y1={920.5} y2={920.5} stroke="#000" strokeWidth={4} />
        <text x={117} y={914} fontSize={12}>100 μM Glu</text>
        <text x={184} y={910} fontSize={12}>6 μM Oli</text>
        <text x={243} y={905} fontSize={12}>0.5 mM DNP</text>
      </g>

      {/* ================= H ================= */}
      <g>
        <Letter x={380} y={677} t="H" />
        <path d={bandH(H_wt)} fill="url(#hatchHB)" />
        <path d={bandH(H_ko)} fill="url(#hatchHR)" />
        <path d={lineH(H_ko)} fill="none" stroke="#e8312f" strokeWidth={2.4} />
        <path d={lineH(H_wt)} fill="none" stroke="#1f6fb8" strokeWidth={2.4} />
        <YAxis scale={yH} x={443} ticks={H_ticksY} fmt={f2} fs={14.5} />
        <XAxis scale={xH} y={922} x0={443} x1={752} ticks={H_ticksX} fmt={f1} fs={14.5} labelY={941} />
        <text x={600} y={958} textAnchor="middle" fontSize={15}>Time (min)</text>
        <RotLabel x={394} y={802} fs={16}>
          Cyt Na<tspan fontSize={11} dy={-6}>+</tspan>
          <tspan dy={6}>(SBFI F/F</tspan>
          <tspan fontSize={11} dy={3}>o</tspan>
          <tspan dy={-3}>)</tspan>
        </RotLabel>
        <line x1={523} x2={752} y1={686} y2={686} stroke="#7a7a7a" strokeWidth={3} />
        <line x1={679} x2={752} y1={682} y2={682} stroke="#000" strokeWidth={4} />
        <text x={524} y={680} fontSize={11.5}>100 μM Glu</text>
        <text x={716} y={676} textAnchor="middle" fontSize={11.5}>Oua/Mon</text>
        <line x1={673} x2={689} y1={887} y2={887} stroke="#1f6fb8" strokeWidth={3} />
        <text x={690} y={892} fontSize={14}>Wild-type</text>
        <line x1={673} x2={689} y1={904} y2={904} stroke="#e8312f" strokeWidth={3} />
        <text x={690} y={909} fontSize={14}>Aralar-KO</text>
      </g>

      {/* ================= I ================= */}
      <g>
        <Letter x={2} y={986} t="I" />
        {I_vlines.map((v) => (
          <g key={v.lab}>
            <line x1={v.x} x2={v.x} y1={v.y0} y2={1233} stroke="#8a8a8a" strokeWidth={1.2} strokeDasharray="3,3" />
            <text x={v.x} y={v.ly} textAnchor="middle" fontSize={13} fill="#777">{v.lab}</text>
          </g>
        ))}
        {I_series.map((s, k) => (
          <g key={k}>
            {s.v.map((v, i) => {
              const x = cx(I_times[i]);
              const y0 = yI(v - s.e[i]);
              const y1 = yI(v + s.e[i]);
              return (
                <g key={i}>
                  <line x1={x} x2={x} y1={y0} y2={y1} stroke={s.c} strokeWidth={1.3} />
                  <line x1={x - 3} x2={x + 3} y1={y1} y2={y1} stroke={s.c} strokeWidth={1.3} />
                  <line x1={x - 3} x2={x + 3} y1={y0} y2={y0} stroke={s.c} strokeWidth={1.3} />
                </g>
              );
            })}
          </g>
        ))}
        {I_series.map((s, k) => (
          <path key={k} d={lineI(s.v)} fill="none" stroke={s.c} strokeWidth={1.6} strokeDasharray={s.dash || undefined} />
        ))}
        {I_series.map((s, k) => (
          <g key={k}>
            {s.v.map((v, i) => {
              const x = cx(I_times[i]);
              const y = yI(v);
              return s.m === "square" ? (
                <rect key={i} x={x - 4.3} y={y - 4.3} width={8.6} height={8.6} fill={s.fill} />
              ) : (
                <circle key={i} cx={x} cy={y} r={4.8} fill={s.fill} stroke={s.c} strokeWidth={1.3} />
              );
            })}
          </g>
        ))}
        <YAxis scale={yI} x={58} ticks={I_ticksY} fmt={f0} fs={13.5} />
        <line x1={58} x2={365} y1={1233} y2={1233} stroke="#000" strokeWidth={1.2} />
        {I_edges.map((e, i) => (
          <line key={i} x1={e} x2={e} y1={1233} y2={1237} stroke="#000" strokeWidth={1.2} />
        ))}
        {I_times.map((t) => (
          <text key={t} x={cx(t)} y={1250} textAnchor="middle" fontSize={13.5}>{t}</text>
        ))}
        <text x={212} y={1268} textAnchor="middle" fontSize={14.5}>Time (min)</text>
        <RotLabel x={15} y={1117} fs={14.5}>OCR (pmol/min)</RotLabel>
        {/* legend */}
        <line x1={73} x2={88} y1={1006} y2={1006} stroke="#000" strokeWidth={1.5} />
        <circle cx={77} cy={1006} r={3.8} fill="#fff" stroke="#000" strokeWidth={1.2} />
        <text x={89} y={1011} fontSize={13.5}>Wild-type</text>
        <line x1={73} x2={88} y1={1020} y2={1020} stroke="#000" strokeWidth={1.5} />
        <circle cx={77} cy={1020} r={3.8} fill="#000" />
        <text x={89} y={1025} fontSize={13.5}>Aralar-KO</text>
        <line x1={162} x2={176} y1={1006} y2={1006} stroke={I_red} strokeWidth={1.5} />
        <circle cx={168} cy={1006} r={3.8} fill={I_red} />
        <text x={177} y={1011} fontSize={13.5}>Wild-type Glu 50</text>
        <line x1={162} x2={176} y1={1020} y2={1020} stroke={I_red} strokeWidth={1.5} strokeDasharray="3,2" />
        <rect x={164.5} y={1016.5} width={7} height={7} fill={I_red} />
        <text x={177} y={1025} fontSize={13.5}>Aralar-KO Glu 50</text>
      </g>

      {/* ================= J ================= */}
      <g>
        <Letter x={397} y={984} t="J" />
        {J_groups.map((g, i) => {
          const x0 = xJ(g) as number;
          const w = xJ.bandwidth();
          const top = yJ(J_vals[i]);
          const et = yJ(J_vals[i] + J_err[i]);
          return (
            <g key={g}>
              <line x1={x0 + w / 2} x2={x0 + w / 2} y1={top} y2={et} stroke="#000" strokeWidth={1.2} />
              <line x1={x0 + w / 2 - 3} x2={x0 + w / 2 + 3} y1={et} y2={et} stroke="#000" strokeWidth={1.2} />
              <rect x={x0} y={top} width={w} height={yJ(100) - top} fill={i === 0 ? "#fff" : "#000"} stroke="#000" strokeWidth={1.2} />
            </g>
          );
        })}
        <YAxis scale={yJ} x={412} ticks={J_ticks} fmt={f0} fs={13.5} />
        <line x1={412} x2={466} y1={1233} y2={1233} stroke="#000" strokeWidth={1.2} />
        <line x1={434} x2={453} y1={1094} y2={1094} stroke="#000" strokeWidth={1.2} />
        <text x={443.5} y={1093} textAnchor="middle" fontSize={14}>*</text>
        <rect x={417.5} y={1025.5} width={10} height={11} fill="#fff" stroke="#000" strokeWidth={1} />
        <text x={429} y={1036} fontSize={12}>Wild-type</text>
        <rect x={417.5} y={1040.5} width={10} height={11} fill="#000" stroke="#000" strokeWidth={1} />
        <text x={429} y={1051} fontSize={12}>Aralar-KO</text>
        <text x={443} y={1265} textAnchor="middle" fontSize={13}>Stimulation</text>
        <RotLabel x={373} y={1127} fs={14}>OCR %</RotLabel>
      </g>

      {/* ================= K ================= */}
      <g>
        <Letter x={500} y={979} t="K" />
        <path d={bandK(K_wt, K_wtErr)} fill="url(#hatchBlue)" />
        <path d={bandK(K_ko, K_koErr)} fill="url(#hatchRed)" opacity={0.85} />
        <path d={lineK(K_wt)} fill="none" stroke="#2a7dc0" strokeWidth={2} />
        <path d={lineK(K_ko)} fill="none" stroke="#e02a2a" strokeWidth={2} />
        <YAxis scale={yK} x={553} ticks={K_ticksY} fmt={f1} fs={14.5} />
        <XAxis scale={xK} y={1233} x0={553} x1={750} ticks={K_ticksX} fmt={f0} fs={14.5} labelY={1255} />
        <text x={650} y={1276} textAnchor="middle" fontSize={16}>Time (sec)</text>
        <RotLabel x={509} y={1085} fs={14}>Perceval-HR (ATP/ADP, F/Fo)</RotLabel>
        <text x={598} y={1018} textAnchor="middle" fontSize={10.5}>100 μM Glu</text>
        <Arrow x={589} y1={1022} y2={1039} />
        <line x1={558} x2={573} y1={1213} y2={1213} stroke="#2a7dc0" strokeWidth={2} />
        <text x={575} y={1217.5} fontSize={12.5}>Wild-type 100 uM Glu</text>
        <line x1={558} x2={573} y1={1226} y2={1226} stroke="#e02a2a" strokeWidth={2} />
        <text x={575} y={1230.5} fontSize={12.5}>Aralar KO 100 uM Glu</text>
        {/* inset */}
        <path d={bandKi(Ki_ko)} fill="#f6a06a" opacity={0.85} />
        <path d={bandKi(Ki_wt)} fill="#7fa6bb" opacity={0.75} />
        <path d={lineKi(Ki_ko)} fill="none" stroke="#e2603a" strokeWidth={1.6} />
        <path d={lineKi(Ki_wt)} fill="none" stroke="#566f84" strokeWidth={1.6} />
        <YAxis scale={yKi} x={637} ticks={Ki_ticksY} fmt={f1} fs={8} len={3} gap={1.5} sw={1} />
        <XAxis scale={xKi} y={1095} x0={637} x1={733} ticks={Ki_ticksX} fmt={(v) => (v === 0 ? "0" : v.toFixed(1))} fs={8} labelY={1106} len={3} sw={1} />
        <text x={683} y={1116} textAnchor="middle" fontSize={7.5}>Time (min)</text>
        <RotLabel x={614} y={1065} fs={8}>
          F<tspan fontSize={6.5} dy={1.5}>490</tspan>
          <tspan dy={-1.5}> /F</tspan>
          <tspan fontSize={6.5} dy={1.5}>450</tspan>
        </RotLabel>
        <Arrow x={670} y1={1034} y2={1049} hw={3.5} hl={6} w={1.8} />
      </g>
    </svg>
  );
}
